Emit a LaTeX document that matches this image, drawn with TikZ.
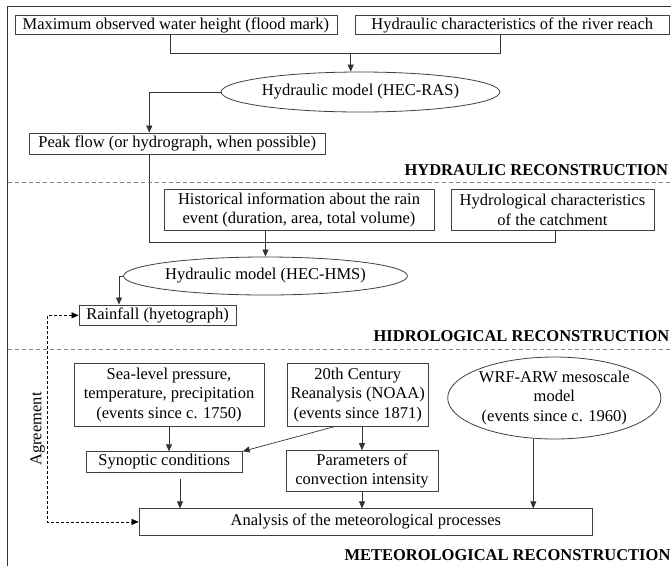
\documentclass[tikz,border=0pt]{standalone}
\usepackage{fontspec}
\setmainfont{Liberation Serif}
\usetikzlibrary{positioning}
\usetikzlibrary{arrows.meta}
\usetikzlibrary{shapes.geometric}
\newcommand{\recfont}{\fontsize{16.5}{19.5}\selectfont}
\tikzset{recbox/.style={rectangle,draw=black!75,fill=white,line width=0.8pt,
inner sep=0pt,align=center,font=\recfont}}
\tikzset{recell/.style={ellipse,draw=black!75,fill=white,line width=0.8pt,
inner sep=0pt,align=center,font=\recfont}}
\tikzset{rectitle/.style={font=\recfont\bfseries,inner sep=0pt,anchor=base east}}
\tikzset{recline/.style={line width=0.7pt,draw=black!80}}
\tikzset{recarrow/.style={recline,-{Triangle[length=7pt,width=6pt]}}}
\tikzset{recsep/.style={line width=0.8pt,draw=black!50,dash pattern=on 4pt off 3pt}}
\tikzset{recagree/.style={line width=0.6pt,dash pattern=on 3pt off 2pt,
{Triangle[length=7pt,width=6pt]}-{Triangle[length=7pt,width=6pt]}}}

\begin{document}
\begin{tikzpicture}[x=1pt,y=-1pt]
        \useasboundingbox (0,0) rectangle (671,566);
        \draw[line width=0.8pt,black!80] (7.5,566) -- (7.5,6) -- (671,6);

        % hydraulic part
        \node[recbox,minimum width=322pt,minimum height=19pt] (boxFlood) at (175.9,25.2) {Maximum observed water height (flood mark)};
        \node[recbox,minimum width=314pt,minimum height=19pt] (boxRiver) at (512.2,25.2) {Hydraulic characteristics of the river reach};
        \node[recell,minimum width=252pt,minimum height=40pt] (boxRas) at (360.5,92) {Hydraulic model (HEC-RAS)};
        \node[recbox,minimum width=296pt,minimum height=21pt] (boxPeak) at (177.2,143.5) {Peak flow (or hydrograph, when possible)};
        \node[rectitle] (lblHydraulic) at (668.3,175) {HYDRAULIC RECONSTRUCTION};

        \coordinate (jRas) at (350.7,53);
        \draw[recline] ([xshift=-5.2pt]boxFlood.south) -- ++(0,18.3) -| ([xshift=-11.5pt]boxRiver.south);
        \draw[recarrow] (jRas) -- (jRas |- boxRas.north);
        \draw[recarrow] (boxRas.west) -| ([xshift=-27.9pt]boxPeak.north);

        % hydrological part
        \node[recbox,minimum width=270pt,minimum height=40.5pt] (boxHist) at (299,209.8) {Historical information about the rain\\event (duration, area, total volume)};
        \node[recbox,minimum width=203pt,minimum height=40.5pt] (boxCatch) at (552.4,209.8) {Hydrological characteristics\\of the catchment};
        \node[recell,minimum width=252pt,minimum height=38pt] (boxHms) at (265.5,276) {Hydraulic model (HEC-HMS)};
        \node[recbox,minimum width=157pt,minimum height=20.7pt] (boxRain) at (157.5,315.3) {Rainfall (hyetograph)};
        \node[rectitle] (lblHidro) at (669.5,341.5) {HIDROLOGICAL RECONSTRUCTION};

        \draw[recline] ([xshift=-27.9pt]boxPeak.south) -- ++(0,87.7) -| ([xshift=3.3pt]boxCatch.south);
        \draw[recarrow] (boxHms.north |- boxHist.south) -- (boxHms.north);
        \draw[recarrow] (boxHms.west) -| ([xshift=-38.5pt]boxRain.north);

        % meteorological part
        \node[recbox,minimum width=190pt,minimum height=62.7pt] (boxSlp) at (169,394.7) {Sea-level pressure,\\temperature, precipitation\\(events since c. 1750)};
        \node[recbox,minimum width=140.7pt,minimum height=62.7pt] (boxNcep) at (357.7,394.7) {20th Century\\Reanalysis (NOAA)\\(events since 1871)};
        \node[recell,minimum width=210pt,minimum height=82pt] (boxWrf) at (554.3,398) {WRF-ARW mesoscale\\model\\(events since c. 1960)};
        \node[recbox,minimum width=156.3pt,minimum height=20.6pt] (boxSyn) at (164.2,462) {Synoptic conditions};
        \node[recbox,minimum width=152pt,minimum height=41pt] (boxConv) at (362,471) {Parameters of\\convection intensity};
        \node[recbox,minimum width=453.7pt,minimum height=26.2pt] (boxAna) at (365.9,521.9) {Analysis of the meteorological processes};
        \node[rectitle,anchor=base west] (lblMeteo) at (344.3,560) {METEOROLOGICAL RECONSTRUCTION};
        \node[font=\recfont,rotate=90,inner sep=0pt] (lblAgree) at (37.7,429) {Agreement};

        \coordinate (synOut) at ([xshift=15.8pt,yshift=-6.3pt]boxSyn.south);
        \coordinate (wrfOut) at ([xshift=-21pt]boxWrf.south);
        \draw[recarrow] (boxSlp.south) -- (boxSlp.south |- boxSyn.north);
        \draw[recarrow] ([xshift=-22.7pt]boxNcep.south) -- (boxSyn.north east);
        \draw[recarrow] (boxConv.north |- boxNcep.south) -- (boxConv.north);
        \draw[recarrow] (synOut) -- (synOut |- boxAna.north);
        \draw[recarrow] (boxConv.south) -- (boxConv.south |- boxAna.north);
        \draw[recarrow] (wrfOut) -- (wrfOut |- boxAna.north);
        \draw[recagree] (boxRain.west) -- ++(-31.2,0) |- (boxAna.west);

        % separators
        \draw[recsep] (7.5,182.7) -- (671,182.7);
        \draw[recsep] (7.5,349.3) -- (671,349.3);

    \end{tikzpicture}
\end{document}
